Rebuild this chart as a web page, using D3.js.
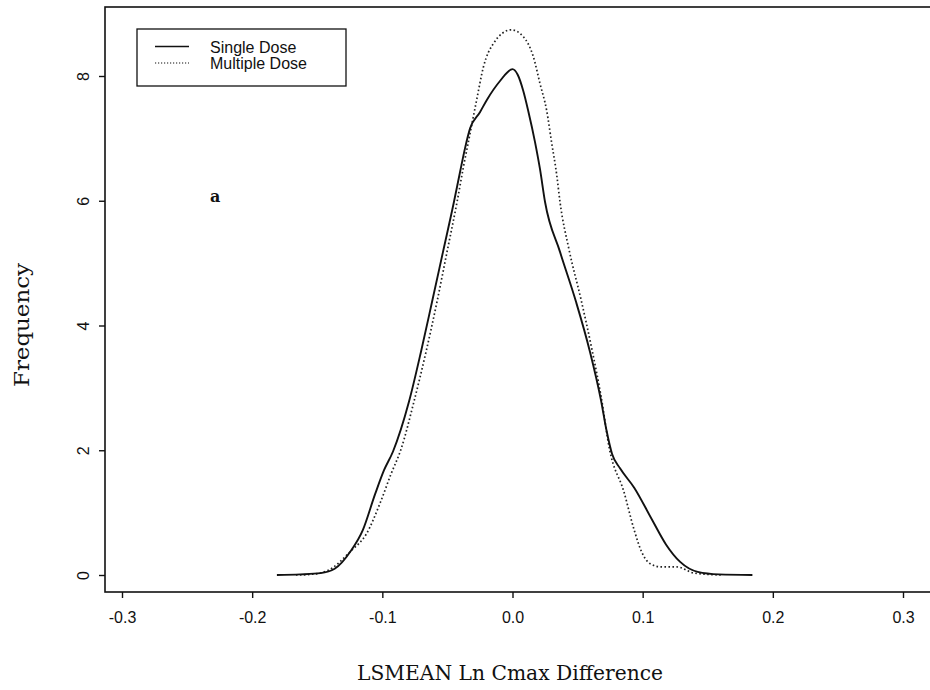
<!DOCTYPE html>
<html>
<head>
<meta charset="utf-8">
<script src="https://cdn.jsdelivr.net/npm/d3@7"></script>
<style>
  html, body { margin: 0; padding: 0; background: #fff; }
  svg { display: block; }
</style>
</head>
<body>
<div id="chart"></div>
<script>
// Kernel density estimates of the LSMEAN Ln Cmax difference
const xTicks = [-0.3, -0.2, -0.1, 0.0, 0.1, 0.2, 0.3];
const xTickLabels = ["-0.3", "-0.2", "-0.1", "0.0", "0.1", "0.2", "0.3"];
const yTicks = [0, 2, 4, 6, 8];
const seriesNames = ["Single Dose", "Multiple Dose"];

const singleX = [-0.181, -0.163, -0.1475, -0.1366, -0.1244, -0.115, -0.1055, -0.0987, -0.0918,
  -0.0795, -0.0703, -0.0618, -0.0534, -0.045, -0.0403, -0.0365, -0.0326, -0.025, -0.0196,
  -0.0096, 0.0, 0.004, 0.0083, 0.0121, 0.0173, 0.0211, 0.025, 0.0365, 0.0488, 0.0595,
  0.068, 0.0722, 0.0765, 0.0826, 0.0935, 0.1071, 0.1179, 0.1288, 0.1423, 0.1586, 0.1843];
const singleY = [0, 0.01, 0.03, 0.10, 0.38, 0.72, 1.30, 1.68, 1.98,
  2.78, 3.58, 4.38, 5.18, 5.98, 6.46, 6.84, 7.16, 7.42, 7.62,
  7.92, 8.11, 8.02, 7.76, 7.44, 6.94, 6.51, 5.98, 5.18, 4.38, 3.58,
  2.80, 2.32, 1.94, 1.71, 1.40, 0.89, 0.49, 0.21, 0.05, 0.01, 0];

const multipleX = [-0.1664, -0.155, -0.142, -0.1244, -0.1122, -0.1014, -0.0933, -0.0856,
  -0.0757, -0.0664, -0.058, -0.0503, -0.0426, -0.0378, -0.0326, -0.0275, -0.0224, -0.0147,
  -0.001, 0.0083, 0.016, 0.0211, 0.0263, 0.03, 0.034, 0.0365, 0.0434, 0.0526, 0.061,
  0.0684, 0.0745, 0.0855, 0.0935, 0.099, 0.1058, 0.1139, 0.1261, 0.1396, 0.1613];
const multipleY = [0, 0.01, 0.07, 0.38, 0.66, 1.17, 1.62, 2.02,
  2.78, 3.58, 4.38, 5.18, 5.98, 6.53, 7.08, 7.62, 8.14, 8.52,
  8.74, 8.63, 8.31, 7.88, 7.44, 6.94, 6.41, 5.98, 5.22, 4.42, 3.62,
  2.82, 2.02, 1.34, 0.72, 0.38, 0.18, 0.13, 0.13, 0.03, 0];

const width = 930, height = 690;
const frame = { left: 105, top: 7, right: 940, bottom: 592 };

const x = d3.scaleLinear().domain([-0.3, 0.3]).range([122, 903]);
const y = d3.scaleLinear().domain([0, 8]).range([575, 76]);

const svg = d3.select("#chart").append("svg")
  .attr("width", width).attr("height", height);

// plot frame
svg.append("rect")
  .attr("x", frame.left).attr("y", frame.top)
  .attr("width", frame.right - frame.left).attr("height", frame.bottom - frame.top)
  .attr("fill", "none").attr("stroke", "#111").attr("stroke-width", 1.6);

// x axis
const xAxis = d3.axisBottom(x)
  .tickValues(xTicks)
  .tickFormat((d, i) => xTickLabels[i])
  .tickSize(6).tickPadding(14);
const gx = svg.append("g").attr("transform", `translate(0,${frame.bottom})`).call(xAxis);
gx.select(".domain").remove();
gx.selectAll(".tick line").attr("stroke", "#111").attr("stroke-width", 1.4);
gx.selectAll(".tick text")
  .attr("font-family", "'Liberation Sans', Arial, sans-serif")
  .attr("font-size", 16).attr("fill", "#111");

// y axis with rotated labels
const yAxis = d3.axisLeft(y).tickValues(yTicks).tickFormat(d3.format("d")).tickSize(6).tickPadding(0);
const gy = svg.append("g").attr("transform", `translate(${frame.left},0)`).call(yAxis);
gy.select(".domain").remove();
gy.selectAll(".tick line").attr("stroke", "#111").attr("stroke-width", 1.4);
gy.selectAll(".tick text")
  .attr("x", null).attr("dy", null)
  .attr("text-anchor", "middle")
  .attr("transform", "translate(-22,0) rotate(-90)")
  .attr("dy", "0.35em")
  .attr("font-family", "'Liberation Sans', Arial, sans-serif")
  .attr("font-size", 16).attr("fill", "#111");

// density curves
const line = d3.line()
  .x(d => x(d[0]))
  .y(d => y(d[1]))
  .curve(d3.curveMonotoneX);

const singleData = singleX.map((v, i) => [v, singleY[i]]);
const multipleData = multipleX.map((v, i) => [v, multipleY[i]]);

svg.append("path")
  .datum(multipleData)
  .attr("d", line)
  .attr("fill", "none").attr("stroke", "#222")
  .attr("stroke-width", 1.7)
  .attr("stroke-dasharray", "1.6,2.4");

svg.append("path")
  .datum(singleData)
  .attr("d", line)
  .attr("fill", "none").attr("stroke", "#111")
  .attr("stroke-width", 1.9);

// legend
const legend = svg.append("g");
legend.append("rect")
  .attr("x", 137).attr("y", 29).attr("width", 209).attr("height", 57)
  .attr("fill", "#fff").attr("stroke", "#111").attr("stroke-width", 1.3);
const legendStyles = [
  { dash: null, w: 1.6 },
  { dash: "1.2,1.8", w: 1.2 }
];
seriesNames.forEach((name, i) => {
  const yy = 46.5 + i * 16.5;
  legend.append("line")
    .attr("x1", 155).attr("x2", 189).attr("y1", yy).attr("y2", yy)
    .attr("stroke", "#111").attr("stroke-width", legendStyles[i].w)
    .attr("stroke-dasharray", legendStyles[i].dash);
  legend.append("text")
    .attr("x", 210).attr("y", yy + 6)
    .attr("font-family", "'Liberation Sans', Arial, sans-serif")
    .attr("font-size", 16).attr("fill", "#111")
    .text(name);
});

// panel letter
svg.append("text")
  .attr("x", 210).attr("y", 202)
  .attr("font-family", "'DejaVu Serif', serif")
  .attr("font-weight", "bold")
  .attr("font-size", 16).attr("fill", "#111")
  .text("a");

// axis titles
svg.append("text")
  .attr("x", 510).attr("y", 680)
  .attr("text-anchor", "middle")
  .attr("font-family", "'DejaVu Serif', serif")
  .attr("font-size", 21).attr("fill", "#111")
  .attr("textLength", 306).attr("lengthAdjust", "spacingAndGlyphs")
  .text("LSMEAN Ln Cmax Difference");

svg.append("text")
  .attr("transform", "translate(29,325) rotate(-90)")
  .attr("text-anchor", "middle")
  .attr("font-family", "'DejaVu Serif', serif")
  .attr("font-size", 21).attr("fill", "#111")
  .attr("textLength", 124).attr("lengthAdjust", "spacingAndGlyphs")
  .text("Frequency");
</script>
</body>
</html>
